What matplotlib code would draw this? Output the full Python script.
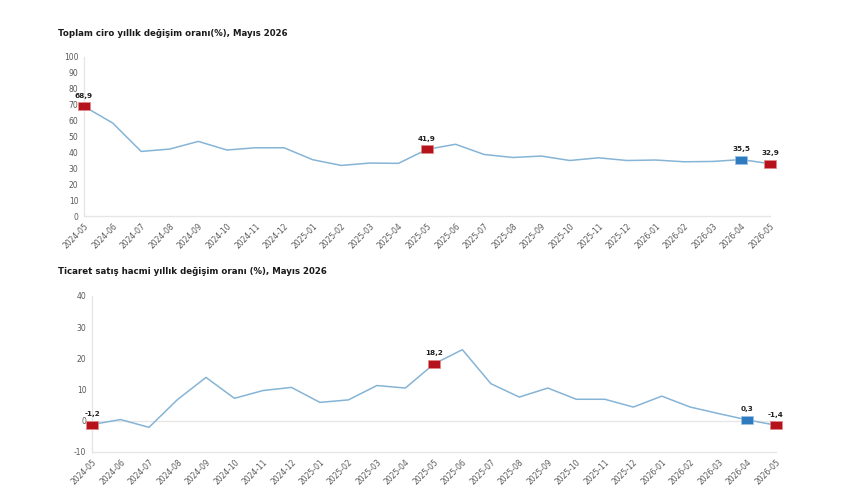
import matplotlib
matplotlib.use("Agg")
import matplotlib.pyplot as plt

months = ["2024-05","2024-06","2024-07","2024-08","2024-09","2024-10","2024-11","2024-12",
          "2025-01","2025-02","2025-03","2025-04","2025-05","2025-06","2025-07","2025-08",
          "2025-09","2025-10","2025-11","2025-12","2026-01","2026-02","2026-03","2026-04","2026-05"]
ciro = [68.9, 58.5, 40.6, 42.1, 46.9, 41.5, 42.9, 42.9, 35.4, 31.8, 33.3, 33.1, 41.9,
        45.1, 38.7, 36.8, 37.7, 34.9, 36.6, 34.9, 35.2, 34.1, 34.3, 35.5, 32.9]
hacim = [-1.2, 0.4, -2.1, 6.8, 13.9, 7.2, 9.7, 10.7, 5.9, 6.7, 11.3, 10.5, 18.2,
         22.8, 11.9, 7.6, 10.5, 6.9, 6.9, 4.4, 7.9, 4.4, 2.3, 0.3, -1.4]
red_idx = [0, 12, 24]
blue_idx = [23]
title1 = "Toplam ciro yıllık değişim oranı(%), Mayıs 2026"
title2 = "Ticaret satış hacmi yıllık değişim oranı (%), Mayıs 2026"

LINE = "#86b4d6"
RED = "#b5121b"
BLUE = "#2f7bbf"
GRID = "#e6e6e6"
TXT = "#595959"

plt.rcParams['font.family'] = ['DejaVu Sans']
plt.rcParams['axes.unicode_minus'] = False

RECT = [(-1.4, -1), (1.4, -1), (1.4, 1), (-1.4, 1), (-1.4, -1)]

fig = plt.figure(figsize=(8.6, 5.04), dpi=100)
fig.patch.set_facecolor("white")

def fmt(v):
    return f"{v:.1f}".replace(".", ",")

def draw(ax, vals, ylim, yticks, zero_line, lab_off):
    x = list(range(len(vals)))
    ax.plot(x, vals, color=LINE, lw=1.1, zorder=2)
    for idxs, col, ec in ((red_idx, RED, "#e08a8a"), (blue_idx, BLUE, "#9cc2e6")):
        for i in idxs:
            ax.plot(i, vals[i], marker=RECT, ms=8, color=col, mec=ec, mew=0.5, zorder=3, clip_on=False)
            ax.annotate(fmt(vals[i]), (i, vals[i]), xytext=(0, lab_off), textcoords="offset points",
                        ha="center", va="bottom", fontsize=5.2, fontweight="bold", color="#222222")
    ax.set_xlim(0, len(vals) - 1)
    ax.set_ylim(*ylim)
    ax.set_yticks(yticks)
    ax.set_xticks(x)
    ax.set_xticklabels(months, rotation=45, ha="right", rotation_mode="anchor")
    ax.tick_params(axis="both", length=0, labelsize=5.5, labelcolor=TXT, pad=4)
    for s in ["top", "right"]:
        ax.spines[s].set_visible(False)
    for s in ["left", "bottom"]:
        ax.spines[s].set_color(GRID)
        ax.spines[s].set_linewidth(1.0)
    if zero_line:
        ax.axhline(0, color=GRID, lw=1.0, zorder=1)

ax1 = fig.add_axes([0.0977, 0.5714, 0.7976, 0.3156])
draw(ax1, ciro, (0, 100), range(0, 101, 10), False, 5.5)
ax2 = fig.add_axes([0.107, 0.1032, 0.795, 0.3095])
draw(ax2, hacim, (-10, 40), range(-10, 41, 10), True, 5.5)

fig.text(58/860, 1-33/504, title1, fontsize=6.2, fontweight="bold", color="#1a1a1a", va="center", ha="left")
fig.text(58/860, 1-271/504, title2, fontsize=6.2, fontweight="bold", color="#1a1a1a", va="center", ha="left")

fig.savefig("out.png", dpi=100, facecolor="white")
